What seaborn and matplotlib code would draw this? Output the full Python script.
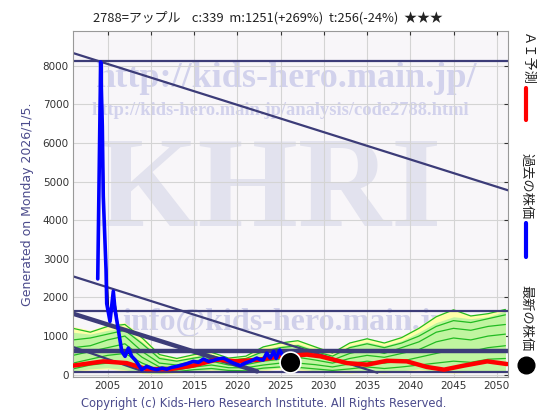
import matplotlib
matplotlib.use("Agg")
import matplotlib.pyplot as plt
import pandas as pd
import seaborn as sns

# past price (blue)
past_years = [2003.86, 2004.2, 2004.39, 2004.5, 2004.82, 2004.9, 2005.28, 2005.66, 2005.86,
              2006.24, 2006.64, 2007.02, 2007.4, 2007.79, 2008.2, 2008.56, 2008.95, 2009.53,
              2010.1, 2010.69, 2011.3, 2011.84, 2012.4, 2013.0, 2013.6, 2014.16, 2014.92,
              2015.5, 2016.08, 2016.7, 2017.24, 2017.8, 2018.4, 2019.0, 2019.55, 2020.33,
              2020.9, 2021.49, 2022.26, 2022.64, 2023.0, 2023.4, 2023.8, 2024.2, 2024.5,
              2024.9, 2025.3, 2025.9]
past_prices = [2480, 8100, 6430, 4620, 2720, 1840, 1380, 2160, 1680,
               1165, 604, 475, 690, 475, 380, 260, 130, 215,
               160, 130, 170, 140, 190, 215, 250, 285, 345,
               320, 405, 340, 370, 410, 430, 360, 300, 235,
               300, 345, 430, 390, 380, 560, 430, 600, 420,
               640, 470, 339]

# thin black line next to the blue one
black_years = [2004.3, 2004.45, 2004.6, 2004.9, 2005.1, 2005.4, 2005.75, 2006.0, 2006.4,
               2006.8, 2007.3, 2008.0, 2009.0]
black_prices = [7600, 6150, 4000, 2600, 1750, 1550, 2000, 1650, 900, 520, 600, 400, 150]

# AI prediction (red)
ai_years = [2001.03, 2004.5, 2007.2, 2009.5, 2012.2, 2014.9, 2017.6, 2019.9, 2022.6, 2025.0,
            2028.05, 2029.6, 2032.7, 2035.0, 2037.3, 2039.6, 2041.9, 2043.9, 2046.2, 2048.9, 2051.2]
ai_prices = [235, 345, 300, 145, 145, 235, 390, 345, 390, 475,
             520, 475, 300, 260, 360, 345, 200, 130, 235, 345, 275]

# latest price
latest_year = 2026.05
latest_price = 339

# forecast band
band_years = list(range(2001, 2052, 2))
band_hi = [1250, 1150, 1300, 1350, 1000, 550, 450, 550, 600, 450, 500, 750, 850,
           900, 750, 600, 850, 950, 850, 1000, 1250, 1550, 1700, 1550, 1600, 1700]
band_lo = [80, 120, 150, 100, 30, 20, 40, 80, 100, 60, 50, 100, 150,
           120, 80, 50, 40, 60, 40, 80, 120, 60, 40, 60, 80, 50]
green_hi = [1100, 1050, 1150, 1200, 850, 480, 380, 480, 520, 400, 430, 650, 750,
            800, 650, 520, 750, 850, 750, 880, 1100, 1350, 1500, 1450, 1500, 1650]
green_lo = [100, 150, 180, 130, 50, 30, 60, 100, 130, 80, 70, 130, 180,
            150, 100, 70, 60, 80, 60, 100, 150, 80, 60, 80, 100, 70]
scenarios = {
    "g1": [1200, 1100, 1250, 1300, 950, 520, 420, 520, 580, 430, 480, 720, 820,
           880, 720, 560, 820, 930, 820, 960, 1200, 1500, 1680, 1520, 1580, 1690],
    "g2": [900, 950, 1050, 1150, 800, 420, 350, 430, 500, 380, 420, 600, 700,
           750, 600, 480, 700, 800, 700, 820, 1000, 1250, 1400, 1350, 1450, 1550],
    "g3": [700, 750, 900, 1000, 600, 300, 250, 350, 420, 300, 330, 450, 550,
           600, 500, 380, 550, 650, 550, 700, 850, 1100, 1200, 1150, 1250, 1300],
    "g4": [500, 600, 700, 800, 450, 200, 180, 280, 350, 250, 260, 350, 400,
           450, 380, 300, 420, 500, 450, 550, 650, 850, 950, 900, 1000, 1050],
    "g5": [300, 400, 500, 550, 300, 120, 120, 200, 250, 180, 180, 250, 300,
           300, 260, 200, 280, 350, 300, 350, 450, 550, 650, 600, 700, 750],
    "g6": [150, 250, 300, 300, 150, 60, 80, 130, 160, 110, 100, 170, 200,
           190, 150, 110, 150, 200, 160, 200, 250, 300, 350, 320, 400, 420],
}

# support / resistance levels
h_levels = [8117, 1658, 604, 75]
h_widths = [1.6, 1.6, 3.2, 1.6]
# trend lines: start year, start value, end year, end value
trend_x0 = [2001, 2001, 2001, 2001]
trend_y0 = [8330, 2547, 1580, 717]
trend_x1 = [2051.3, 2036.2, 2022.3, 2009.1]
trend_y1 = [4775, 50, 85, 85]
trend_w = [1.6, 1.6, 3.2, 1.6]

navy = "#3c3c78"
text_navy = "#4b4b8c"

sns.set_style("whitegrid")
plt.rcParams['font.family'] = ['DejaVu Sans', 'Noto Sans CJK JP']

fig = plt.figure(figsize=(5.6, 4.2), dpi=100)
ax = fig.add_axes([73 / 560, 43 / 420, 435 / 560, 346 / 420])
ax.set_facecolor("#f8f6f9")

# watermarks (figure-fraction positions, drawn under the grid)
wm = dict(transform=fig.transFigure, family="Liberation Serif", weight="bold", zorder=0.2,
          ha="center", va="center", clip_on=True)
ax.text(0.511, 0.814, "http://kids-hero.main.jp/", fontsize=26, color="#d2d2ec", **wm)
ax.text(0.5, 0.738, "http://kids-hero.main.jp/analysis/code2788.html", fontsize=13.3,
        color="#d2d2ec", **wm)
ax.text(0.482, 0.535, "KHRI", fontsize=93, color="#e2e2ee", **wm)
ax.text(0.51, 0.233, "info@kids-hero.main.jp", fontsize=23, color="#d0d0ea", **wm)

# forecast band
ax.fill_between(band_years, band_lo, band_hi, color="#ffffa8", lw=0, zorder=1)
ax.fill_between(band_years, green_lo, green_hi, color="#c0f5a0", lw=0, zorder=1.1)
band_df = pd.DataFrame(scenarios, index=band_years).reset_index(names="year")
band_df = band_df.melt(id_vars="year", var_name="scenario", value_name="price")
sns.lineplot(data=band_df, x="year", y="price", units="scenario", estimator=None,
             color="#22bb22", lw=0.9, ax=ax, zorder=1.2)

for y, w in zip(h_levels, h_widths):
    ax.axhline(y, color=navy, lw=w, zorder=2)
for x0, y0, x1, y1, w in zip(trend_x0, trend_y0, trend_x1, trend_y1, trend_w):
    ax.plot([x0, x1], [y0, y1], color=navy, lw=w, zorder=2)

sns.lineplot(x=ai_years, y=ai_prices, color="#ff0000", lw=3.2, ax=ax, zorder=3)
sns.lineplot(x=black_years, y=black_prices, color="black", lw=1, ax=ax, zorder=3.1)
sns.lineplot(x=past_years, y=past_prices, color="#0000ff", lw=2.6, ax=ax, zorder=3.2)
ax.plot([latest_year], [latest_price], "o", color="black", markersize=15,
        markeredgecolor="white", markeredgewidth=1.2, zorder=4, clip_on=False)

ax.set_xlim(2001, 2051.3)
ax.set_ylim(-60, 8900)
ax.set_xticks(range(2005, 2051, 5))
ax.set_yticks(range(0, 8001, 1000))
ax.grid(True, color="#d4d4d4", lw=0.8)
ax.tick_params(axis="both", labelsize=7.5, colors="#333333", direction="in", length=3,
               top=True, right=True, bottom=False, left=False, pad=3)
for s in ax.spines.values():
    s.set_color("#999999")
    s.set_linewidth(0.8)
ax.set_xlabel("")
ax.set_ylabel("Generated on Monday 2026/1/5.", fontsize=9, color=text_navy, labelpad=6)

fig.text(93 / 560, 1 - 18 / 420,
         "2788=アップル    c:339  m:1251(+269%)  t:256(-24%)  ★★★",
         fontsize=9.3, color="#222222", ha="left", va="center",
         family=["Noto Sans CJK JP", "DejaVu Sans"])
fig.text(0.47, 1 - 403 / 420,
         "Copyright (c) Kids-Hero Research Institute. All Rights Reserved.",
         fontsize=8.3, color=text_navy, ha="center", va="center")

# right side legend
jp = ["Noto Sans CJK JP", "DejaVu Sans"]
lx = 526 / 560
fig.text(lx, 1 - 33 / 420, "ＡＩ予測", rotation=-90, fontsize=9.5, family=jp,
         ha="center", va="top", color="#222222")
fig.add_artist(plt.Line2D([lx, lx], [1 - 88 / 420, 1 - 120 / 420], color="#ff0000", lw=3))
fig.text(lx, 1 - 153 / 420, "過去の株価", rotation=-90, fontsize=9.5, family=jp,
         ha="center", va="top", color="#222222")
fig.add_artist(plt.Line2D([lx, lx], [1 - 223 / 420, 1 - 257 / 420], color="#0000ff", lw=3))
fig.text(lx, 1 - 285 / 420, "最新の株価", rotation=-90, fontsize=9.5, family=jp,
         ha="center", va="top", color="#222222")
fig.add_artist(plt.Line2D([lx], [1 - 365 / 420], marker="o", color="black", markersize=12))

fig.savefig("out.png", dpi=100)
